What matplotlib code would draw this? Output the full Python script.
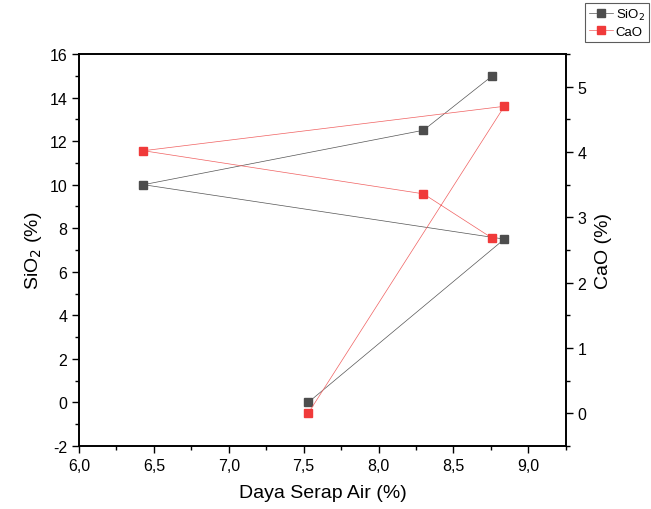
import matplotlib
matplotlib.use('Agg')
import matplotlib.pyplot as plt
from matplotlib.ticker import MultipleLocator, FuncFormatter

plt.rcParams['font.family'] = ['Liberation Sans', 'DejaVu Sans']
plt.rcParams['axes.unicode_minus'] = False

# data
daya_serap = [8.76, 8.30, 6.43, 8.84, 7.53]
sio2 = [15, 12.5, 10, 7.5, 0]
cao = [2.68, 3.36, 4.02, 4.70, 0]

fig = plt.figure(figsize=(6.51, 5.10), dpi=100)
ax = fig.add_axes([0.1214, 0.1235, 0.7476, 0.7686])
ax2 = ax.twinx()

l1, = ax.plot(daya_serap, sio2, color='#555555', lw=0.5, marker='s', markersize=6,
              markerfacecolor='#4d4d4d', markeredgecolor='#4d4d4d', label='SiO$_2$')
l2, = ax2.plot(daya_serap, cao, color='#f06060', lw=0.5, marker='s', markersize=6,
               markerfacecolor='#f03a3a', markeredgecolor='#f03a3a', label='CaO')

ax.set_xlim(6.0, 9.25)
ax.set_ylim(-2, 16)
ax2.set_ylim(-0.5, 5.5)

comma = FuncFormatter(lambda v, p: ('%.1f' % v).replace('.', ','))
ax.xaxis.set_major_locator(MultipleLocator(0.5))
ax.xaxis.set_minor_locator(MultipleLocator(0.25))
ax.xaxis.set_major_formatter(comma)
ax.yaxis.set_major_locator(MultipleLocator(2))
ax.yaxis.set_minor_locator(MultipleLocator(1))
ax2.yaxis.set_major_locator(MultipleLocator(1))
ax2.yaxis.set_minor_locator(MultipleLocator(0.5))

for a in (ax, ax2):
    a.tick_params(which='major', direction='out', length=5, width=1, labelsize=11.5)
    a.tick_params(which='minor', direction='out', length=3, width=1)
    for s in a.spines.values():
        s.set_linewidth(1.2)

ax.set_xlabel('Daya Serap Air (%)', fontsize=14, labelpad=8)
ax.set_ylabel('SiO$_2$ (%)', fontsize=14, labelpad=4)
ax2.set_ylabel('CaO (%)', fontsize=14, labelpad=6)

leg = fig.legend(handles=[l1, l2], loc='upper left', bbox_to_anchor=(0.899, 0.993),
                 fontsize=9.5, frameon=True, fancybox=False, edgecolor='#333333',
                 handlelength=1.8, handletextpad=0.2, borderpad=0.3, labelspacing=0.3,
                 borderaxespad=0, markerscale=0.9)
leg.get_frame().set_linewidth(0.8)

fig.savefig('out.png', dpi=100)
